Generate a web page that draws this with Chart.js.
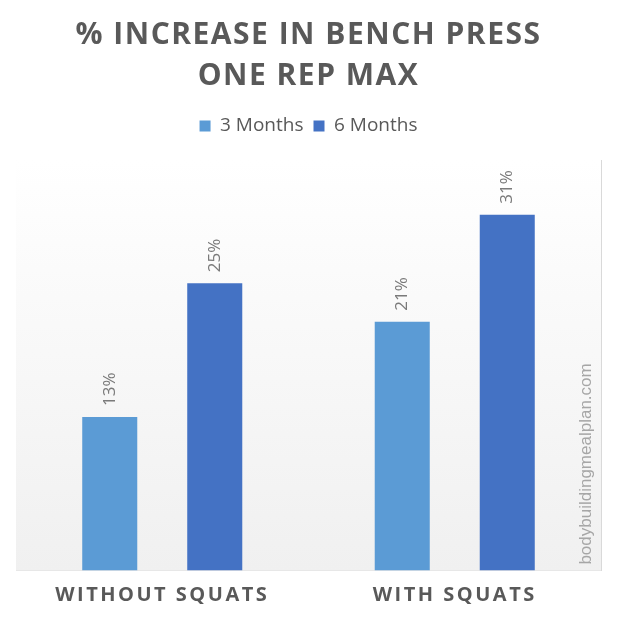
<!DOCTYPE html>
<html>
<head>
<meta charset="utf-8">
<script src="https://cdn.jsdelivr.net/npm/chart.js@4"></script>
<style>
  html, body { margin: 0; padding: 0; background: #fff; }
  #wrap { width: 618px; height: 620px; }
</style>
</head>
<body>
<div id="wrap"><canvas id="myChart" width="618" height="620"></canvas></div>
<script>
var categories = ['WITHOUT SQUATS', 'WITH SQUATS'];
var threeMonths = [13.2, 21.4];
var sixMonths = [24.7, 30.6];
var seriesNames = ['3 Months', '6 Months'];
var titleLines = ['% INCREASE IN BENCH PRESS', 'ONE REP MAX'];
var watermark = 'bodybuildingmealplan.com';

var grey = '#595959';

// wraps a draw function so its text gets some letter spacing
function spaced(fn, ctx, px) {
    return function() {
        ctx.save();
        ctx.letterSpacing = px;
        fn.apply(this, arguments);
        ctx.restore();
    };
}

var tweaks = {
    id: 'tweaks',
    beforeLayout: function(chart) {
        // extra room between legend and plot area
        var lg = chart.legend;
        if (lg && !lg._patched) {
            var fit = lg.fit;
            lg.fit = function() {
                fit.apply(this, arguments);
                this.height += 14.5;
            };
            lg._patched = true;
        }
    },
    beforeDraw: function(chart) {
        var ctx = chart.ctx;
        if (chart.titleBlock && !chart.titleBlock._patched) {
            chart.titleBlock.draw = spaced(chart.titleBlock.draw, ctx, '1.5px');
            chart.titleBlock._patched = true;
        }
        var x = chart.scales.x;
        if (x && !x._patched) {
            x.drawLabels = spaced(x.drawLabels, ctx, '2.5px');
            x._patched = true;
        }
    }
};

// plot area background (white -> light grey)
var plotBg = {
    id: 'plotBg',
    beforeDatasetsDraw: function(chart) {
        var a = chart.chartArea, ctx = chart.ctx;
        var g = ctx.createLinearGradient(0, a.top, 0, a.bottom);
        g.addColorStop(0, '#ffffff');
        g.addColorStop(1, '#f0f0f0');
        ctx.save();
        ctx.fillStyle = g;
        ctx.fillRect(a.left, a.top, a.right - a.left, a.bottom - a.top);
        ctx.restore();
    }
};

// rotated value labels + watermark
var barLabels = {
    id: 'barLabels',
    afterDatasetsDraw: function(chart) {
        var ctx = chart.ctx;
        ctx.save();
        ctx.font = '17px "Open Sans"';
        ctx.fillStyle = '#7a7a7a';
        ctx.textAlign = 'left';
        ctx.textBaseline = 'middle';
        chart.data.datasets.forEach(function(ds, i) {
            chart.getDatasetMeta(i).data.forEach(function(bar, j) {
                ctx.save();
                ctx.translate(bar.x, bar.y - 11);
                ctx.rotate(-Math.PI / 2);
                ctx.fillText(Math.round(ds.data[j]) + '%', 0, 0);
                ctx.restore();
            });
        });
        var a = chart.chartArea;
        ctx.font = '17px "Liberation Sans"';
        ctx.fillStyle = '#a6a6a6';
        ctx.translate(a.right - 15, a.bottom - 6);
        ctx.rotate(-Math.PI / 2);
        ctx.fillText(watermark, 0, 0);
        ctx.restore();
    }
};

var ctx = document.getElementById('myChart').getContext('2d');
var chart = new Chart(ctx, {
    type: 'bar',
    data: {
        labels: categories,
        datasets: [{
            label: seriesNames[0],
            backgroundColor: '#5b9bd5',
            data: threeMonths
        }, {
            label: seriesNames[1],
            backgroundColor: '#4472c4',
            data: sixMonths
        }]
    },
    options: {
        responsive: false,
        animation: false,
        categoryPercentage: 0.718,
        barPercentage: 0.524,
        layout: {
            padding: { left: 16, right: 17, top: 0, bottom: 0 }
        },
        plugins: {
            title: {
                display: true,
                text: titleLines,
                color: grey,
                font: { family: '"Open Sans"', size: 30, weight: 'bold', lineHeight: 1.38 },
                padding: { top: 14.3, bottom: 9.4 }
            },
            legend: {
                labels: {
                    color: grey,
                    boxWidth: 11,
                    boxHeight: 11,
                    font: { family: '"Open Sans"', size: 19 },
                    padding: 10
                }
            },
            tooltip: { enabled: false }
        },
        scales: {
            x: {
                grid: { display: true, offset: true, drawTicks: false, color: '#d9d9d9' },
                border: { display: true, color: '#d9d9d9' },
                ticks: {
                    color: grey,
                    padding: 14.7,
                    font: { family: '"Open Sans"', size: 20, weight: 'bold', lineHeight: 1.0 }
                }
            },
            y: {
                display: false,
                min: 0,
                max: 35.3
            }
        }
    },
    plugins: [tweaks, plotBg, barLabels]
});
</script>
</body>
</html>
